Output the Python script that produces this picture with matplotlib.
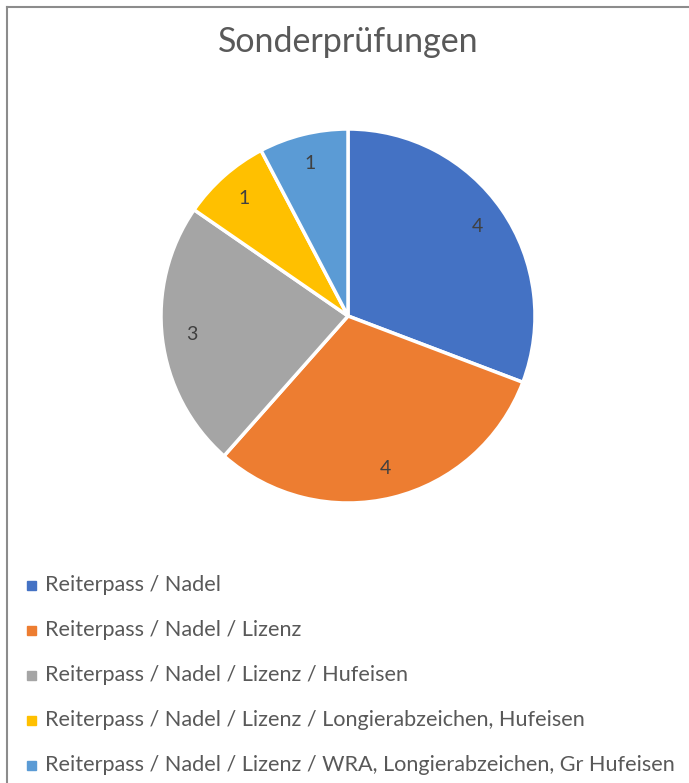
import matplotlib.pyplot as plt
from matplotlib.patches import Rectangle
from matplotlib.lines import Line2D

categories = ['Reiterpass / Nadel',
              'Reiterpass / Nadel / Lizenz',
              'Reiterpass / Nadel / Lizenz / Hufeisen',
              'Reiterpass / Nadel / Lizenz / Longierabzeichen, Hufeisen',
              'Reiterpass / Nadel / Lizenz / WRA, Longierabzeichen, Gr Hufeisen']
counts = [4, 4, 3, 1, 1]
colors = ['#4472C4', '#ED7D31', '#A5A5A5', '#FFC000', '#5B9BD5']

plt.rcParams['font.family'] = ['Lato', 'DejaVu Sans']

W, H = 689, 783
fig = plt.figure(figsize=(W / 100, H / 100), dpi=100)

# frame (only left and top edges visible in the crop)
fig.add_artist(Line2D([7 / W, 7 / W], [0, 1 - 7 / H], color='#8c8c8c', lw=1.5))
fig.add_artist(Line2D([7 / W, 1], [1 - 7 / H, 1 - 7 / H], color='#8c8c8c', lw=1.5))

cx, cy, r = 348, 316, 187
ax = fig.add_axes([(cx - r) / W, (H - cy - r) / H, 2 * r / W, 2 * r / H])
ax.pie(counts, colors=colors, startangle=90, counterclock=False,
       labels=[str(c) for c in counts], labeldistance=0.84,
       textprops={'fontsize': 14, 'color': '#404040', 'ha': 'center', 'va': 'center'},
       wedgeprops={'edgecolor': 'white', 'linewidth': 2.5})
ax.set_xlim(-1, 1)
ax.set_ylim(-1, 1)
ax.set_aspect('equal')
ax.axis('off')

fig.text(cx / W, 1 - 42 / H, 'Sonderprüfungen', ha='center', va='center',
         fontsize=24.5, color='#595959')

# legend
y0, dy = 585, 45
for i, (lab, col) in enumerate(zip(categories, colors)):
    y = y0 + i * dy
    fig.add_artist(Rectangle((27 / W, 1 - (y + 5) / H), 9 / W, 9 / H,
                             transform=fig.transFigure, color=col))
    fig.text(45 / W, 1 - y / H, lab, ha='left', va='center',
             fontsize=15.6, color='#595959')

fig.savefig('out.png', dpi=100)
